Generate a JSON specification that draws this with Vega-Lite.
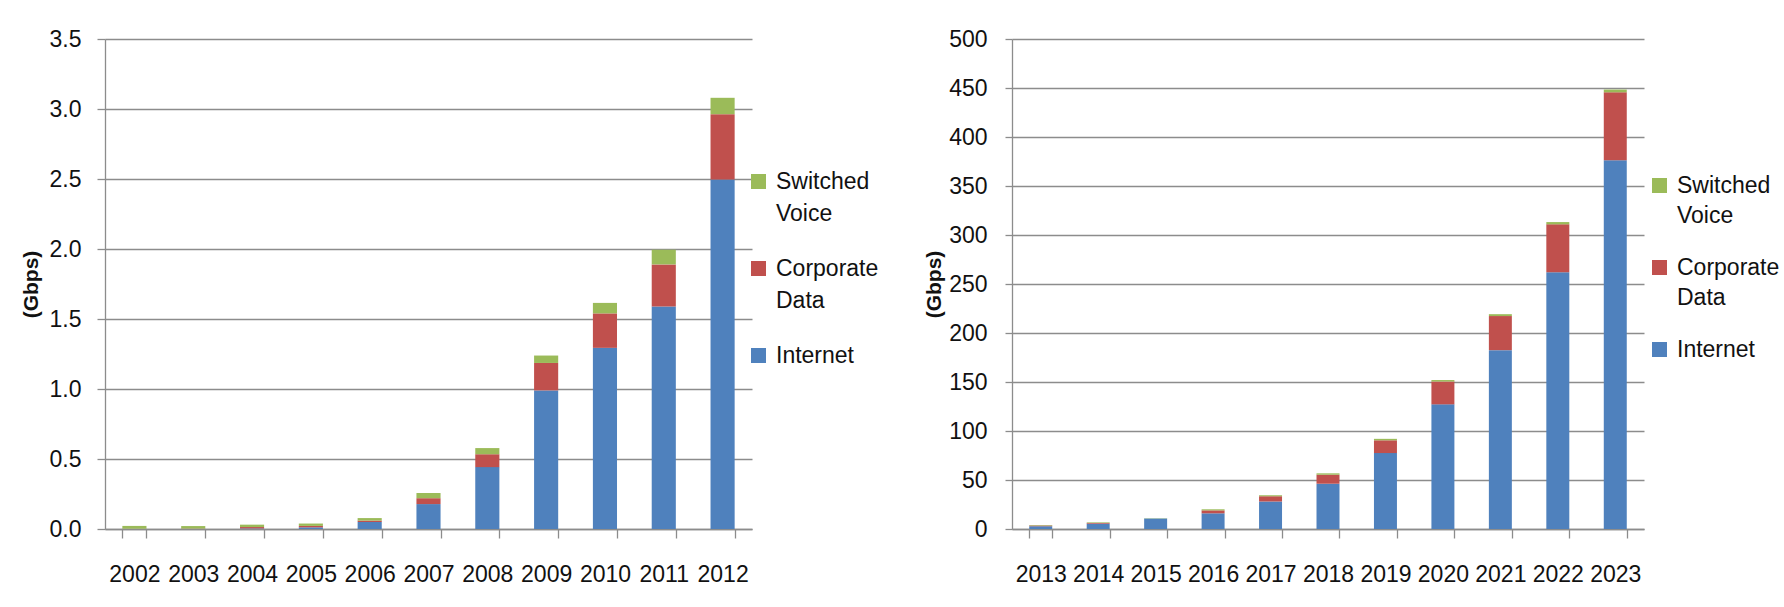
{
  "$schema": "https://vega.github.io/schema/vega-lite/v6.json",
  "background": "white",
  "padding": {"left": 20, "top": 28, "right": 5, "bottom": 5},
  "bounds": "flush",
  "spacing": 260,
  "datasets": {
    "early": [
      {"year": "2002", "series": "Internet", "gbps": 0.001},
      {"year": "2002", "series": "Corporate Data", "gbps": 0.001},
      {"year": "2002", "series": "Switched Voice", "gbps": 0.02},
      {"year": "2003", "series": "Internet", "gbps": 0.001},
      {"year": "2003", "series": "Corporate Data", "gbps": 0.002},
      {"year": "2003", "series": "Switched Voice", "gbps": 0.018},
      {"year": "2004", "series": "Internet", "gbps": 0.004},
      {"year": "2004", "series": "Corporate Data", "gbps": 0.01},
      {"year": "2004", "series": "Switched Voice", "gbps": 0.017},
      {"year": "2005", "series": "Internet", "gbps": 0.012},
      {"year": "2005", "series": "Corporate Data", "gbps": 0.01},
      {"year": "2005", "series": "Switched Voice", "gbps": 0.017},
      {"year": "2006", "series": "Internet", "gbps": 0.05},
      {"year": "2006", "series": "Corporate Data", "gbps": 0.01},
      {"year": "2006", "series": "Switched Voice", "gbps": 0.018},
      {"year": "2007", "series": "Internet", "gbps": 0.178},
      {"year": "2007", "series": "Corporate Data", "gbps": 0.042},
      {"year": "2007", "series": "Switched Voice", "gbps": 0.037},
      {"year": "2008", "series": "Internet", "gbps": 0.442},
      {"year": "2008", "series": "Corporate Data", "gbps": 0.092},
      {"year": "2008", "series": "Switched Voice", "gbps": 0.044},
      {"year": "2009", "series": "Internet", "gbps": 0.99},
      {"year": "2009", "series": "Corporate Data", "gbps": 0.196},
      {"year": "2009", "series": "Switched Voice", "gbps": 0.053},
      {"year": "2010", "series": "Internet", "gbps": 1.294},
      {"year": "2010", "series": "Corporate Data", "gbps": 0.246},
      {"year": "2010", "series": "Switched Voice", "gbps": 0.075},
      {"year": "2011", "series": "Internet", "gbps": 1.59},
      {"year": "2011", "series": "Corporate Data", "gbps": 0.3},
      {"year": "2011", "series": "Switched Voice", "gbps": 0.105},
      {"year": "2012", "series": "Internet", "gbps": 2.497},
      {"year": "2012", "series": "Corporate Data", "gbps": 0.466},
      {"year": "2012", "series": "Switched Voice", "gbps": 0.117}
    ],
    "late": [
      {"year": "2013", "series": "Internet", "gbps": 2.9},
      {"year": "2013", "series": "Corporate Data", "gbps": 0.7},
      {"year": "2013", "series": "Switched Voice", "gbps": 0.5},
      {"year": "2014", "series": "Internet", "gbps": 5.4},
      {"year": "2014", "series": "Corporate Data", "gbps": 0.8},
      {"year": "2014", "series": "Switched Voice", "gbps": 0.6},
      {"year": "2015", "series": "Internet", "gbps": 10.6},
      {"year": "2015", "series": "Corporate Data", "gbps": 0.2},
      {"year": "2015", "series": "Switched Voice", "gbps": 0.1},
      {"year": "2016", "series": "Internet", "gbps": 16},
      {"year": "2016", "series": "Corporate Data", "gbps": 3},
      {"year": "2016", "series": "Switched Voice", "gbps": 1.1},
      {"year": "2017", "series": "Internet", "gbps": 28},
      {"year": "2017", "series": "Corporate Data", "gbps": 5.4},
      {"year": "2017", "series": "Switched Voice", "gbps": 1.1},
      {"year": "2018", "series": "Internet", "gbps": 46.2},
      {"year": "2018", "series": "Corporate Data", "gbps": 9.2},
      {"year": "2018", "series": "Switched Voice", "gbps": 1.4},
      {"year": "2019", "series": "Internet", "gbps": 77.5},
      {"year": "2019", "series": "Corporate Data", "gbps": 13},
      {"year": "2019", "series": "Switched Voice", "gbps": 1.5},
      {"year": "2020", "series": "Internet", "gbps": 127.2},
      {"year": "2020", "series": "Corporate Data", "gbps": 23.3},
      {"year": "2020", "series": "Switched Voice", "gbps": 1.5},
      {"year": "2021", "series": "Internet", "gbps": 182.5},
      {"year": "2021", "series": "Corporate Data", "gbps": 34.8},
      {"year": "2021", "series": "Switched Voice", "gbps": 1.9},
      {"year": "2022", "series": "Internet", "gbps": 261.9},
      {"year": "2022", "series": "Corporate Data", "gbps": 49},
      {"year": "2022", "series": "Switched Voice", "gbps": 2.3},
      {"year": "2023", "series": "Internet", "gbps": 376.4},
      {"year": "2023", "series": "Corporate Data", "gbps": 69.2},
      {"year": "2023", "series": "Switched Voice", "gbps": 2.8}
    ]
  },
  "hconcat": [
    {
      "width": 647,
      "height": 490,
      "data": {"name": "early"},
      "transform": [
        {"calculate": "indexof(['Internet', 'Corporate Data', 'Switched Voice'], datum.series)", "as": "stackOrder"}
      ],
      "mark": {"type": "bar"},
      "encoding": {
        "x": {
          "field": "year", "type": "ordinal", "title": null,
          "scale": {"paddingInner": 0.59, "paddingOuter": 0.295},
          "axis": {"labelAngle": 0, "tickBand": "extent", "grid": false, "tickSize": 9, "labelPadding": 25}
        },
        "y": {
          "field": "gbps", "type": "quantitative", "stack": "zero", "title": "(Gbps)",
          "scale": {"domain": [0, 3.5], "nice": false},
          "axis": {"values": [0, 0.5, 1, 1.5, 2, 2.5, 3, 3.5], "format": ".1f", "tickSize": 8, "labelPadding": 16, "titlePadding": 8}
        },
        "color": {
          "field": "series", "type": "nominal",
          "scale": {"domain": ["Switched Voice", "Corporate Data", "Internet"], "range": ["#9BBB59", "#C0504D", "#4F81BD"]},
          "legend": {
            "orient": "none", "legendX": 642, "legendY": 131, "title": null, "rowPadding": 31,
            "labelExpr": "split(datum.label, ' ')",
            "encode": {"labels": {"update": {"lineHeight": {"value": 32}}}}
          }
        },
        "order": {"field": "stackOrder", "type": "quantitative"}
      }
    },
    {
      "width": 632,
      "height": 490,
      "data": {"name": "late"},
      "transform": [
        {"calculate": "indexof(['Internet', 'Corporate Data', 'Switched Voice'], datum.series)", "as": "stackOrder"}
      ],
      "mark": {"type": "bar"},
      "encoding": {
        "x": {
          "field": "year", "type": "ordinal", "title": null,
          "scale": {"paddingInner": 0.6, "paddingOuter": 0.3},
          "axis": {"labelAngle": 0, "tickBand": "extent", "grid": false, "tickSize": 9, "labelPadding": 25}
        },
        "y": {
          "field": "gbps", "type": "quantitative", "stack": "zero", "title": "(Gbps)",
          "scale": {"domain": [0, 500], "nice": false},
          "axis": {"values": [0, 50, 100, 150, 200, 250, 300, 350, 400, 450, 500], "tickSize": 7, "labelPadding": 18, "titlePadding": 4}
        },
        "color": {
          "field": "series", "type": "nominal",
          "scale": {"domain": ["Switched Voice", "Corporate Data", "Internet"], "range": ["#9BBB59", "#C0504D", "#4F81BD"]},
          "legend": {
            "orient": "none", "legendX": 636, "legendY": 135, "title": null, "rowPadding": 28,
            "labelExpr": "split(datum.label, ' ')",
            "encode": {"labels": {"update": {"lineHeight": {"value": 30}}}}
          }
        },
        "order": {"field": "stackOrder", "type": "quantitative"}
      }
    }
  ],
  "resolve": {"scale": {"color": "independent", "x": "independent", "y": "independent"}, "legend": {"color": "independent"}},
  "config": {
    "font": "Liberation Sans",
    "view": {"stroke": null},
    "axis": {
      "domainColor": "#8c8c8c",
      "domainWidth": 1.3,
      "tickColor": "#8c8c8c",
      "tickWidth": 1.3,
      "gridColor": "#8c8c8c",
      "gridWidth": 1.3,
      "labelFont": "Liberation Sans",
      "labelFontSize": 23,
      "labelColor": "#111111",
      "titleFont": "Liberation Sans",
      "titleFontSize": 21,
      "titleFontWeight": "bold",
      "titleColor": "#111111"
    },
    "legend": {
      "symbolType": "square",
      "symbolSize": 225,
      "symbolStrokeWidth": 0,
      "labelFont": "Liberation Sans",
      "labelFontSize": 23,
      "labelColor": "#111111",
      "labelOffset": 6,
      "labelLimit": 300,
      "padding": 0
    }
  }
}
